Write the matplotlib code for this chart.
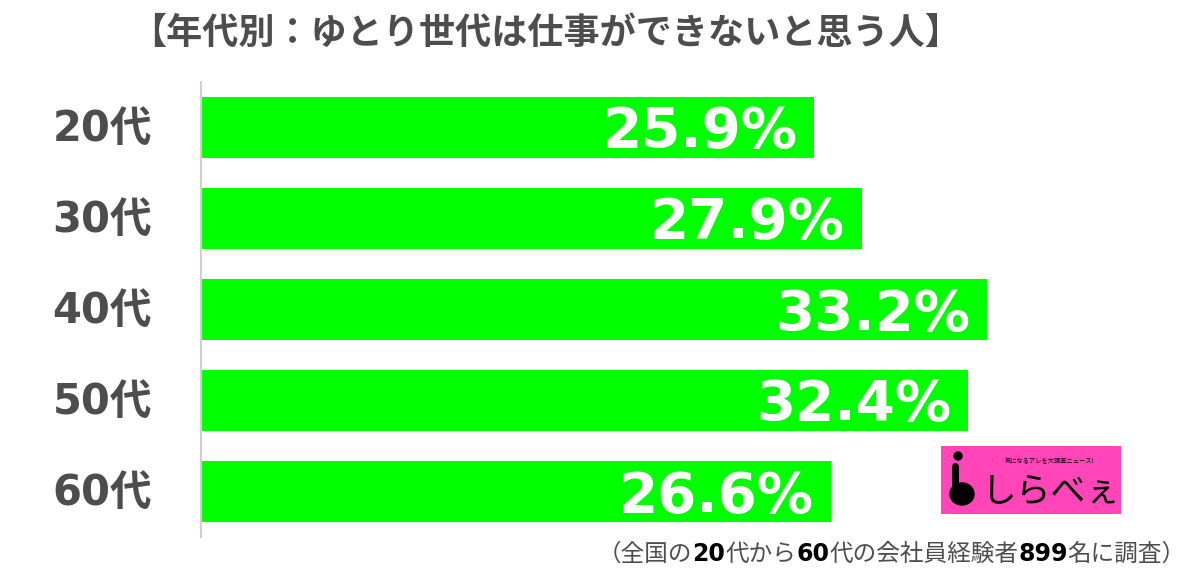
import matplotlib
matplotlib.use('Agg')
import matplotlib.pyplot as plt
from matplotlib.patches import Ellipse, Circle

# --- Datos ---
edades = ['20代', '30代', '40代', '50代', '60代']
porcentajes = [25.9, 27.9, 33.2, 32.4, 26.6]
titulo = '【年代別：ゆとり世代は仕事ができないと思う人】'
# nota al pie en trozos: (texto, es_numero)
nota = [('（全国の', False), ('20', True), ('代から', False), ('60', True),
        ('代の会社員経験者', False), ('899', True), ('名に調査）', False)]

gris = '#4d4d4d'
verde = '#00ff00'
rosa = '#ff45b8'
cjk = ['Noto Sans CJK JP', 'DejaVu Sans']
num_font = ['DejaVu Sans', 'Noto Sans CJK JP']

W, H = 1200, 576
fig = plt.figure(figsize=(12, 5.76), dpi=100)
ax = fig.add_axes([201 / W, 1 - 537 / H, 947 / W, 455 / H])

pos = list(range(len(edades)))
ax.barh(pos, porcentajes, height=0.66, color=verde, edgecolor='none')
ax.set_xlim(0, 40)
ax.set_ylim(4.5, -0.5)

for s in ['top', 'right', 'bottom']:
    ax.spines[s].set_visible(False)
ax.spines['left'].set_color('#d0d0d0')
ax.spines['left'].set_linewidth(1.5)
ax.set_xticks([])
ax.set_yticks([])

# etiquetas de porcentaje dentro de las barras
for i, v in enumerate(porcentajes):
    ax.annotate(f'{v:.1f}%', xy=(v, i), xytext=(-17, -20), textcoords='offset pixels',
                ha='right', va='baseline', color='white', fontsize=40.5,
                fontweight='bold', family='DejaVu Sans')

# etiquetas de edad
for i, e in enumerate(edades):
    ax.annotate(e, xy=(0, i), xytext=(-49, -13), textcoords='offset pixels',
                ha='right', va='baseline', color=gris, fontsize=30,
                fontweight='bold', family=num_font)

# título
fig.text(546 / W, 1 - 33 / H, titulo, ha='center', va='center', color=gris,
         fontsize=26, fontweight='bold', family=cjk)

# nota al pie, trozo por trozo
fig.canvas.draw()
renderer = fig.canvas.get_renderer()
x = 598
y_base = 1 - 561 / H
for txt, es_num in nota:
    if es_num:
        t = fig.text(x / W, y_base, txt, ha='left', va='baseline', color='black',
                     fontsize=17, fontweight='bold', family=num_font)
    else:
        t = fig.text(x / W, y_base, txt, ha='left', va='baseline', color=gris,
                     fontsize=17, family=cjk)
    bb = t.get_window_extent(renderer)
    x += bb.width

# logo
lax = fig.add_axes([941 / W, 1 - 514 / H, 180 / W, 68 / H])
lax.set_xlim(0, 180)
lax.set_ylim(68, 0)
lax.set_facecolor(rosa)
lax.set_xticks([])
lax.set_yticks([])
for s in lax.spines.values():
    s.set_visible(False)
lax.add_patch(Circle((17, 10), 4, color='black'))
lax.plot([14, 14], [20, 46], color='black', lw=5, solid_capstyle='round')
lax.add_patch(Ellipse((21, 48), 24, 22, color='black'))
lax.text(110, 46, 'しらべぇ', ha='center', va='center', fontsize=25,
         family=cjk, color='black')
lax.text(108, 15, '気になるアレを大調査ニュース!', ha='center', va='center',
         fontsize=4.5, family=cjk, color='black')

plt.savefig('out.png', dpi=100)
